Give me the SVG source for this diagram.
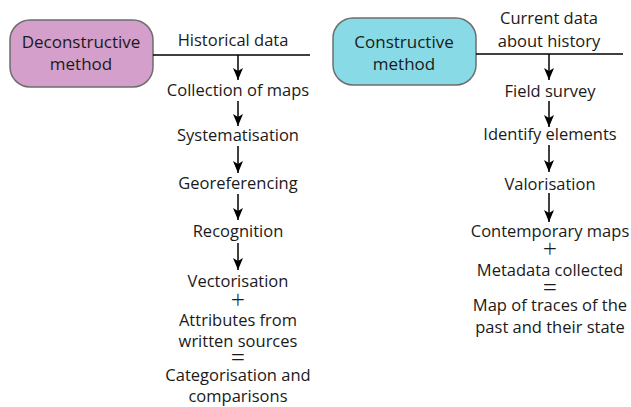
<svg xmlns="http://www.w3.org/2000/svg" width="631" height="407" viewBox="0 0 631 407">
<defs>
<marker id="ah" markerWidth="12" markerHeight="10" refX="12" refY="5" orient="auto" markerUnits="userSpaceOnUse" viewBox="0 0 12 10">
<path d="M0,0 L12,5 L0,10 L3,5 Z" fill="#000"/>
</marker>
</defs>
<style>
text{font-family:"Open Sans","Noto Sans",sans-serif;font-size:16.5px;fill:#1a1a1a;text-anchor:middle}
.bt{font-size:17px}
.op{font-size:25px;font-weight:300}
.box{stroke:#6e6e6e;stroke-width:1.5}
.ln{stroke:#000;stroke-width:1.5;fill:none}
.ar{stroke:#000;stroke-width:1.5;fill:none;marker-end:url(#ah)}
</style>
<rect width="631" height="407" fill="#fff"/>
<g id="deconstructive">
<rect class="box" x="10" y="20" width="143" height="67" rx="20" fill="#d49fca"/>
<text class="bt" x="81" y="48">Deconstructive</text>
<text class="bt" x="81" y="70">method</text>
</g>
<g id="constructive">
<rect class="box" x="333" y="18" width="143" height="67" rx="20" fill="#88dbe6"/>
<text class="bt" x="404" y="48">Constructive</text>
<text class="bt" x="404" y="70">method</text>
</g>
<g id="connectors">
<line class="ln" x1="153" y1="55" x2="310" y2="55"/>
<line class="ar" x1="238" y1="55" x2="238" y2="80"/>
<line class="ar" x1="238" y1="101" x2="238" y2="126"/>
<line class="ar" x1="238" y1="146" x2="238" y2="173"/>
<line class="ar" x1="238" y1="194" x2="238" y2="220"/>
<line class="ar" x1="238" y1="243" x2="238" y2="270"/>
<line class="ln" x1="476" y1="54" x2="623" y2="54"/>
<line class="ar" x1="549" y1="54" x2="549" y2="80"/>
<line class="ar" x1="549" y1="101" x2="549" y2="127"/>
<line class="ar" x1="549" y1="145" x2="549" y2="172"/>
<line class="ar" x1="549" y1="193" x2="549" y2="222"/>
</g>
<g id="left-steps">
<text x="233" y="46">Historical data</text>
<text x="238" y="96">Collection of maps</text>
<text x="238" y="141">Systematisation</text>
<text x="238" y="189">Georeferencing</text>
<text x="238" y="237">Recognition</text>
<text x="238" y="287">Vectorisation</text>
<text class="op" x="238" y="309">+</text>
<text x="238" y="326">Attributes from</text>
<text x="238" y="347">written sources</text>
<text class="op" x="238" y="366">=</text>
<text x="238" y="381">Categorisation and</text>
<text x="238" y="402">comparisons</text>
</g>
<g id="right-steps">
<text x="549" y="24">Current data</text>
<text x="549" y="47">about history</text>
<text x="550" y="97">Field survey</text>
<text x="550" y="140">Identify elements</text>
<text x="550" y="190">Valorisation</text>
<text x="550" y="237">Contemporary maps</text>
<text class="op" x="550" y="258">+</text>
<text x="550" y="276">Metadata collected</text>
<text class="op" x="550" y="296">=</text>
<text x="550" y="311">Map of traces of the</text>
<text x="550" y="333">past and their state</text>
</g>
</svg>
